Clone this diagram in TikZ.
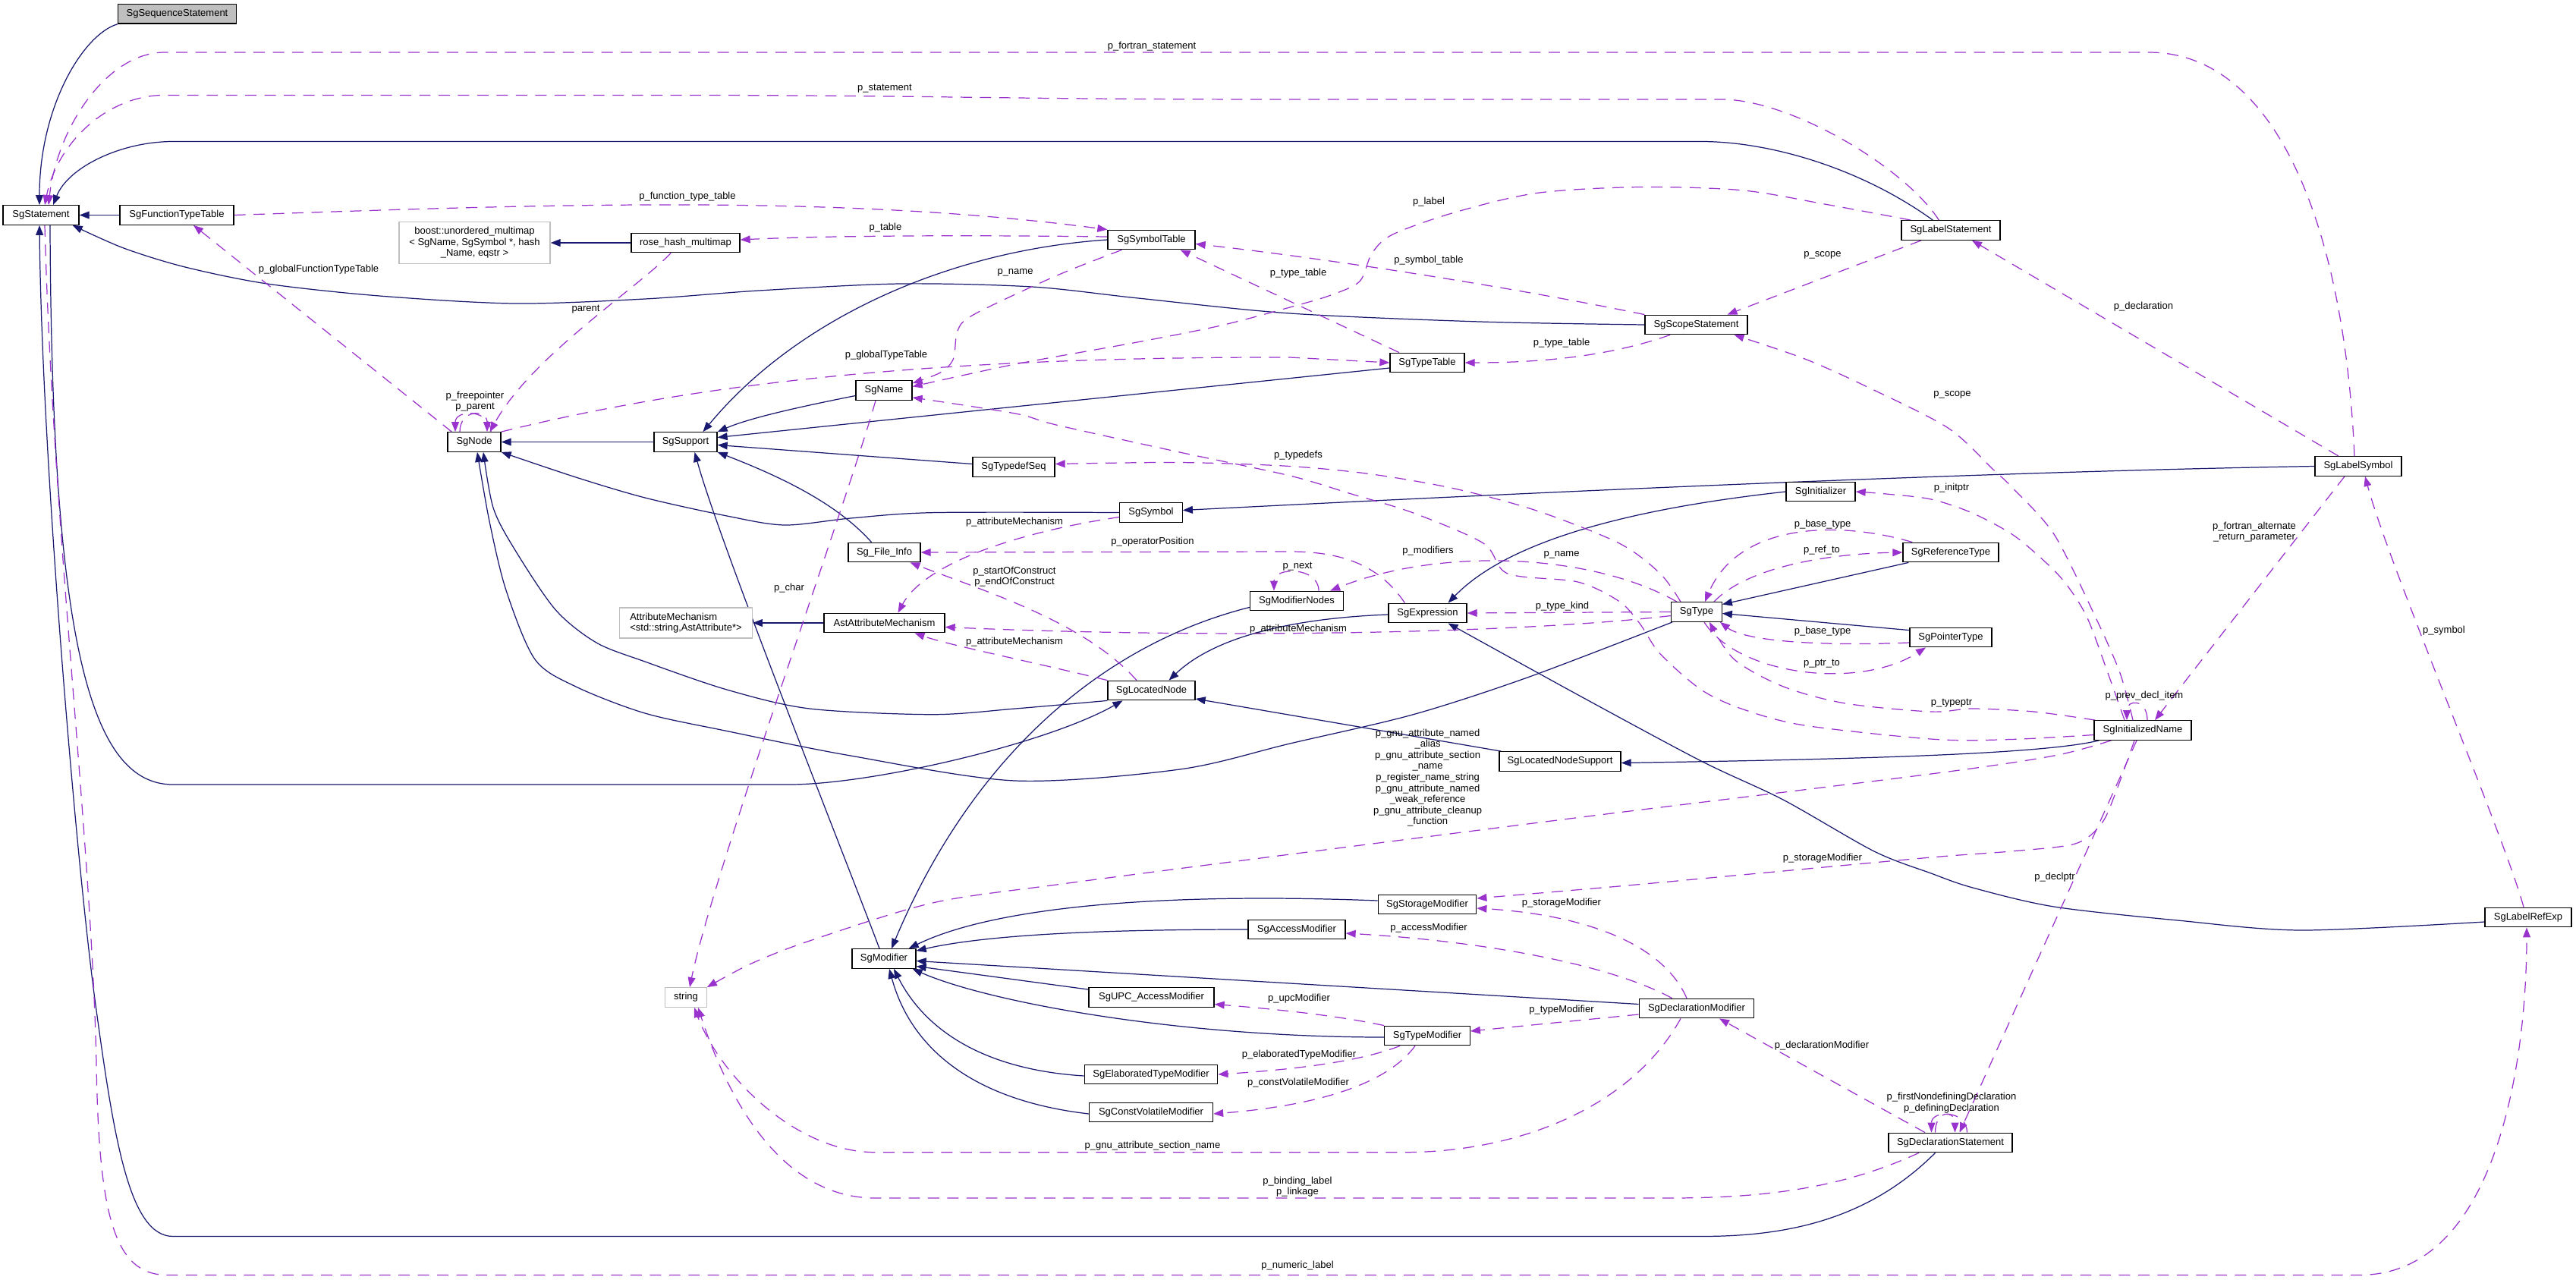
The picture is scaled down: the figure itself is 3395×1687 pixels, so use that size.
\documentclass[tikz,border=0pt]{standalone}
\usepackage{fontspec}
\setmainfont{Liberation Sans}
\usetikzlibrary{arrows.meta}
\definecolor{inhcol}{HTML}{191970}
\definecolor{usecol}{HTML}{9A32CD}
\definecolor{grayfill}{HTML}{BFBFBF}
\newcommand\dgfont{\fontsize{7.4}{8.3}\selectfont}
\pgfdeclarelayer{bg}
\pgfdeclarelayer{edges}
\pgfsetlayers{bg,edges,main}
\tikzset{
  box/.style={draw=black, line width=0.75pt, fill=white, minimum height=0.51cm, inner sep=0pt, font=\dgfont},
  gbox/.style={box, draw=grayfill},
  wd/.style={minimum width=#1*0.02cm},
  inhedge/.style={draw=inhcol, line width=0.7pt, -{Triangle[length=7.4pt,width=5.6pt]}},
  usedge/.style={draw=usecol, line width=0.7pt, dash pattern=on 8.5pt off 6pt, -{Triangle[length=7.4pt,width=5.6pt]}},
  lbl/.style={font=\dgfont, inner sep=0pt, align=center},
}
\begin{document}
\begin{tikzpicture}[x=0.02cm, y=-0.02cm]
\begin{pgfonlayer}{bg}
\fill[white] (0,0) rectangle (3395,1687);
\end{pgfonlayer}
\useasboundingbox (0,0) rectangle (3395,1687);

% ---------------- nodes ----------------
\node[box, wd=156, fill=grayfill] (seq) at (233.5,18.4) {SgSequenceStatement};
\node[box, wd=100] (stmt) at (54,283.5) {SgStatement};
\node[box, wd=150] (ftt) at (233,283.5) {SgFunctionTypeTable};
\node[gbox, wd=199, minimum height=1.1cm, align=center] (boost) at (625.5,320) {boost::unordered\_multimap\\< SgName, SgSymbol *, hash\\\_Name, eqstr >};
\node[box, wd=143] (rhm) at (903.5,320) {rose\_hash\_multimap};
\node[box, wd=70] (sgnode) at (625,582.5) {SgNode};
\node[box, wd=83] (support) at (903.5,582.5) {SgSupport};
\node[box, wd=74] (sgname) at (1165,514.5) {SgName};
\node[box, wd=115] (symtab) at (1517.5,316) {SgSymbolTable};
\node[box, wd=98] (typetab) at (1881,478) {SgTypeTable};
\node[box, wd=135] (scope) at (2235.5,428) {SgScopeStatement};
\node[box, wd=130] (labstmt) at (2571,303.5) {SgLabelStatement};
\node[box, wd=108] (typedefseq) at (1336,615.5) {SgTypedefSeq};
\node[box, wd=82.5] (symbol) at (1517,675.5) {SgSymbol};
\node[box, wd=114] (labsym) at (3108,614.5) {SgLabelSymbol};
\node[box, wd=95] (fileinfo) at (1165.5,728) {Sg\_File\_Info};
\node[gbox, wd=174.5, minimum height=0.8cm, align=left] (attrmech) at (904,821) {AttributeMechanism\\<std::string,AstAttribute*>};
\node[box, wd=159] (astattr) at (1165.5,821) {AstAttributeMechanism};
\node[box, wd=123] (modnodes) at (1709,792) {SgModifierNodes};
\node[box, wd=103] (expr) at (1881.5,808) {SgExpression};
\node[box, wd=66.5] (sgtype) at (2236,806.5) {SgType};
\node[box, wd=91] (init) at (2399.5,648) {SgInitializer};
\node[box, wd=126] (reftype) at (2571,728) {SgReferenceType};
\node[box, wd=108] (ptrtype) at (2571,840) {SgPointerType};
\node[box, wd=115] (locnode) at (1517.5,910) {SgLocatedNode};
\node[box, wd=160] (lnsupport) at (2056,1003.5) {SgLocatedNodeSupport};
\node[box, wd=128] (initname) at (2824,962.5) {SgInitializedName};
\node[gbox, wd=54.5] (sgstring) at (904,1314.5) {string};
\node[box, wd=84] (modifier) at (1165,1263.5) {SgModifier};
\node[box, wd=129.5] (storage) at (1881,1192) {SgStorageModifier};
\node[box, wd=128] (access) at (1709,1225) {SgAccessModifier};
\node[box, wd=165] (upc) at (1517.5,1314.5) {SgUPC\_AccessModifier};
\node[box, wd=112.5] (typemod) at (1881,1365) {SgTypeModifier};
\node[box, wd=151.5] (declmod) at (2236,1329) {SgDeclarationModifier};
\node[box, wd=175.5] (elab) at (1517,1416) {SgElaboratedTypeModifier};
\node[box, wd=163] (cv) at (1517,1466) {SgConstVolatileModifier};
\node[box, wd=163] (declstmt) at (2570.5,1506) {SgDeclarationStatement};
\node[box, wd=114] (labref) at (3332,1209) {SgLabelRefExp};

\begin{pgfonlayer}{edges}
% ---------------- inheritance ----------------
\draw[inhedge] (seq.south west) .. controls (110,45) and (52,140) .. ([shift={(-2,0)}]stmt.north);
\draw[inhedge] (ftt.west) -- (stmt.east);
\draw[inhedge] ([shift={(42,0)}]labstmt.north west) .. controls (2450,220) and (2330,186.5) .. (2242,186.5) -- (228,186.5) .. controls (160,186.5) and (90,220) .. ([shift={(16,0)}]stmt.north);
\draw[inhedge] plot[smooth] coordinates {(scope.west) (1950,424) (1700,413) (1500,393) (1360,378) (1186,374) (1000,383) (850,394) (678,400) (500,390) (352,374) (244,352) (163,327) ([shift={(-9,0)}]stmt.south east)};
\draw[inhedge] ([shift={(-20,0)}]declstmt.south) .. controls (2460,1610) and (2350,1629.5) .. (2242,1629.5) -- (228,1629.5) .. controls (170,1629.5) and (150,1500) .. (125,1317) .. controls (100,1130) and (55,600) .. ([shift={(-2,0)}]stmt.south);
\draw[inhedge] ([shift={(12,0)}]stmt.south) .. controls (68,850) and (120,1034) .. (228,1034) -- (1040,1034) .. controls (1150,1034) and (1380,980) .. ([shift={(-38,0)}]locnode.south);
\draw[inhedge] (symtab.west) .. controls (1250,330) and (1050,420) .. ([shift={(23,0)}]support.north);
\draw[inhedge] ([shift={(0,7)}]sgname.west) .. controls (1060,535) and (990,550) .. (support.north east);
\draw[inhedge] ([shift={(0,7)}]typetab.west) -- ([shift={(0,-6)}]support.east);
\draw[inhedge] ([shift={(0,-4)}]typedefseq.west) -- ([shift={(0,4)}]support.east);
\draw[inhedge] ([shift={(-17,0)}]fileinfo.north) .. controls (1100,660) and (1020,625) .. (support.south east);
\draw[inhedge] ([shift={(-6,0)}]modifier.north) .. controls (1110,1120) and (950,720) .. ([shift={(12,0)}]support.south);
\draw[inhedge] (support.west) -- (sgnode.east);
\draw[inhedge] plot[smooth] coordinates {(symbol.west) (1230,675.6) (1121,683) (1034,692) (958,680) (850,656) (759,629) (sgnode.south east)};
\draw[inhedge] plot[smooth] coordinates {(locnode.south west) (1338,934) (1229,941.7) (1067,934) (958,909) (850,872) (786,847) (732,803.5) (678,723.6) (650,669) ([shift={(12,0)}]sgnode.south)};
\draw[inhedge] plot[smooth] coordinates {([shift={(2,0)}]sgtype.south west) (2014,892.6) (1862.6,941.7) (1700,980) (1554.7,1014) (1338,1029) (1121,996) (958,963.5) (850,940) (759,905) (705,869) (667,778) (645,687) ([shift={(4,0)}]sgnode.south)};
\draw[inhedge] ([shift={(7,0)}]initname.south west) .. controls (2700,992) and (2500,1000) .. ([shift={(0,2)}]lnsupport.east);
\draw[inhedge] ([shift={(3,0)}]lnsupport.north west) -- ([shift={(0,11)}]locnode.east);
\draw[inhedge] ([shift={(0,2)}]expr.west) .. controls (1700,815) and (1600,840) .. ([shift={(23,0)}]locnode.north);
\draw[inhedge] (init.west) .. controls (2200,665) and (2000,700) .. ([shift={(27,0)}]expr.north);
\draw[inhedge] plot[smooth] coordinates {([shift={(0,6)}]labref.west) (3033,1226) (2870,1213) (2707,1195) (2600,1170) (2545,1151) (2470,1122) (2350,1054) (2242,1003) (2080,916) ([shift={(27,0)}]expr.south)};
\draw[inhedge] ([shift={(8,0)}]reftype.south west) -- ([shift={(0,-10)}]sgtype.east);
\draw[inhedge] ([shift={(0,4)}]ptrtype.north west) -- ([shift={(0,2)}]sgtype.east);
\draw[inhedge] (labsym.west) .. controls (2600,622) and (2000,650) .. ([shift={(0,-3)}]symbol.east);
\draw[inhedge] ([shift={(0,-5)}]modnodes.south west) .. controls (1450,850) and (1280,1000) .. ([shift={(10,0)}]modifier.north);
\draw[inhedge] ([shift={(0,-5)}]storage.west) .. controls (1500,1175) and (1300,1200) .. ([shift={(-10,0)}]modifier.north east);
\draw[inhedge] (access.west) .. controls (1450,1225) and (1300,1232) .. ([shift={(0,3)}]modifier.north east);
\draw[inhedge] ([shift={(0,-5.5)}]declmod.west) -- ([shift={(0,3)}]modifier.east);
\draw[inhedge] ([shift={(0,3)}]upc.north west) -- ([shift={(0,10)}]modifier.east);
\draw[inhedge] ([shift={(0,2)}]typemod.west) .. controls (1550,1367) and (1300,1320) .. ([shift={(-5,0)}]modifier.south east);
\draw[inhedge] ([shift={(0,2)}]elab.west) .. controls (1300,1410) and (1220,1360) .. ([shift={(13,0)}]modifier.south);
\draw[inhedge] ([shift={(0,2)}]cv.west) .. controls (1280,1450) and (1200,1380) .. ([shift={(7,0)}]modifier.south);
\draw[inhedge] (astattr.west) -- (attrmech.east);
\draw[inhedge] (rhm.west) -- (boost.east);

% ---------------- usage ----------------
\draw[usedge] ([shift={(-5,0)}]labsym.north) .. controls (3090,300) and (3000,69) .. (2832,69) -- (217,69) .. controls (140,69) and (75,170) .. ([shift={(10,0)}]stmt.north);
\draw[usedge] ([shift={(50,0)}]labstmt.north west) .. controls (2510,220) and (2360,131) .. (2269,131) -- (1700,131) .. controls (1300,131) and (1250,125.4) .. (850,125.4) -- (217,125.4) .. controls (140,125.4) and (75,190) .. ([shift={(5,0)}]stmt.north);
\draw[usedge] (ftt.east) .. controls (700,270) and (1100,255) .. (symtab.north west);
\draw[usedge] ([shift={(0,-4)}]symtab.west) .. controls (1300,310) and (1100,310) .. ([shift={(0,-4)}]rhm.east);
\draw[usedge] ([shift={(6,0)}]sgnode.north west) -- ([shift={(22,0)}]ftt.south);
\draw[usedge] ([shift={(53,0)}]rhm.south west) .. controls (840,380) and (700,470) .. ([shift={(-15,0)}]sgnode.north east);
\draw[usedge] ([shift={(22,0)}]sgnode.north) .. controls +(0,-30) and +(0,-30) .. ([shift={(-25,0)}]sgnode.north);
\draw[usedge] ([shift={(-19,0)}]sgnode.north) .. controls +(0,-30) and +(0,-30) .. ([shift={(17,0)}]sgnode.north);
\draw[usedge] plot[smooth] coordinates {([shift={(19,0)}]symtab.south west) (1392,363.5) (1283.7,414.4) (1262,436) (1256.6,472.6) (1240,490.7) ([shift={(0,4)}]sgname.north east)};
\draw[usedge] plot[smooth] coordinates {([shift={(13,0)}]labstmt.north west) (2404.7,269) (2296,250.8) (2161,246.5) (2025,254.5) (1917,280) (1835.5,309) (1808,334) (1792,370.8) (1754,389) (1700,405) (1609,429) (1500.5,450.7) (1338,480) ([shift={(0,-5)}]sgname.east)};
\draw[usedge] (scope.north west) .. controls (1950,370) and (1700,335) .. ([shift={(0,5.5)}]symtab.east);
\draw[usedge] ([shift={(-37,0)}]typetab.north) -- ([shift={(-20,0)}]symtab.south east);
\draw[usedge] ([shift={(-34.5,0)}]scope.south) .. controls (2120,470) and (2030,478) .. (typetab.east);
\draw[usedge] ([shift={(-39,0)}]labstmt.south) -- ([shift={(41,0)}]scope.north);
\draw[usedge] plot[smooth] coordinates {([shift={(-13,0)}]initname.north) (2794,887) (2762,814) (2707.6,705) (2653,643.6) (2626,618) (2566.7,563.6) (2459,509) (2377.6,472.6) ([shift={(50,0)}]scope.south)};
\draw[usedge] ([shift={(-26,0)}]labsym.north) -- ([shift={(28,0)}]labstmt.south);
\draw[usedge] ([shift={(-18,0)}]labsym.south) -- ([shift={(16,0)}]initname.north);
\draw[usedge] ([shift={(-6,0)}]labref.north) .. controls (3300,1100) and (3150,750) .. ([shift={(9,0)}]labsym.south);
\draw[usedge] ([shift={(6,0)}]initname.north) .. controls +(0,-28) and +(0,-28) .. ([shift={(-21,0)}]initname.north);
\draw[usedge] plot[smooth] coordinates {([shift={(-24,0)}]initname.north) (2778,887) (2751,814.5) (2724,771) (2697,742) (2653,705) (2599,676) (2545,658) (2486,651) (init.east)};
\draw[usedge] plot[smooth] coordinates {([shift={(2,0)}]initname.north west) (2680.5,938) (2599,934) (2545,938) (2432,927) (2350.5,905) (2285.5,869) ([shift={(17,0)}]sgtype.south)};
\draw[usedge] plot[smooth] coordinates {([shift={(0,6)}]initname.west) (2653,974.4) (2550,974.4) (2378,956) (2296,934.4) (2242,909) (2188,861.7) (2161,821.7) (2134,792.6) (2079.5,767) (1987,756) (1955,716) (1862.6,676) (1781,651) (1700,627) (1554.7,596) (1392,560) (1338,545) ([shift={(0,-4)}]sgname.south east)};
\draw[usedge] (sgtype.west) -- (expr.east);
\draw[usedge] ([shift={(0,5)}]sgtype.west) .. controls (2000,835) and (1600,842) .. ([shift={(0,5.5)}]astattr.east);
\draw[usedge] (locnode.north west) .. controls (1350,870) and (1250,850) .. ([shift={(40,0)}]astattr.south);
\draw[usedge] ([shift={(0,6)}]symbol.west) .. controls (1350,700) and (1220,740) .. ([shift={(18,0)}]astattr.north);
\draw[usedge] ([shift={(22,0)}]expr.north west) .. controls (1815,740) and (1760,727) .. (1700,727) -- (fileinfo.east);
\draw[usedge] ([shift={(-19.5,0)}]locnode.north) .. controls (1430,820) and (1300,780) .. ([shift={(34,0)}]fileinfo.south);
\draw[usedge] ([shift={(-26,0)}]sgtype.north) .. controls (2100,730) and (1900,720) .. ([shift={(-18,0)}]modnodes.north east);
\draw[usedge] ([shift={(29,0)}]modnodes.north) .. controls +(0,-32) and +(0,-32) .. ([shift={(-30,0)}]modnodes.north);
\draw[usedge] ([shift={(13,0)}]reftype.north west) .. controls (2420,685) and (2290,690) .. ([shift={(11,0)}]sgtype.north);
\draw[usedge] ([shift={(-11,0)}]sgtype.north east) .. controls (2300,750) and (2400,730) .. (reftype.west);
\draw[usedge] ([shift={(0,7)}]ptrtype.west) .. controls (2400,852) and (2300,845) .. ([shift={(-3,0)}]sgtype.south east);
\draw[usedge] ([shift={(10,0)}]sgtype.south) .. controls (2290,890) and (2450,910) .. ([shift={(-33,0)}]ptrtype.south);
\draw[usedge] plot[smooth] coordinates {([shift={(-11,0)}]initname.south) (2790,1040) (2770,1085) (2735,1112) (2650,1122) (2545,1130) (2296,1153) (2134,1168) ([shift={(0,-8)}]storage.east)};
\draw[usedge] plot[smooth] coordinates {([shift={(23,0)}]initname.south west) (2707,996) (2545,1020) (2100,1075) (1700,1126) (1400,1165) (1229,1190) (1067,1240) (990,1270) (sgstring.north east)};
\draw[usedge] ([shift={(-8,0)}]initname.south) -- ([shift={(12,0)}]declstmt.north);
\draw[usedge] ([shift={(22,0)}]declstmt.north) .. controls +(0,-30) and +(0,-30) .. ([shift={(-25,0)}]declstmt.north);
\draw[usedge] ([shift={(-20,0)}]declstmt.north) .. controls +(0,-30) and +(0,-30) .. ([shift={(6,0)}]declstmt.north);
\draw[usedge] ([shift={(-33.5,0)}]declstmt.north) -- ([shift={(30,0)}]declmod.south);
\draw[usedge] ([shift={(-13,0)}]declmod.north) .. controls (2190,1240) and (2080,1205) .. ([shift={(0,5)}]storage.east);
\draw[usedge] ([shift={(44,0)}]declmod.north west) .. controls (2120,1270) and (1950,1240) .. ([shift={(0,5)}]access.east);
\draw[usedge] ([shift={(0,8)}]declmod.west) -- ([shift={(0,-6)}]typemod.east);
\draw[usedge] (typemod.north west) .. controls (1760,1338) and (1680,1330) .. ([shift={(0,9)}]upc.east);
\draw[usedge] ([shift={(21,0)}]typemod.south west) .. controls (1790,1400) and (1700,1410) .. (elab.east);
\draw[usedge] ([shift={(-16,0)}]typemod.south) .. controls (1820,1440) and (1700,1460) .. ([shift={(0,2)}]cv.east);
\draw[usedge] ([shift={(-21,0)}]declmod.south) .. controls (2150,1460) and (2000,1518.7) .. (1850,1518.7) -- (1153.6,1518.7) .. controls (1050,1518.7) and (950,1420) .. ([shift={(11,0)}]sgstring.south);
\draw[usedge] ([shift={(-41.5,0)}]declstmt.south) .. controls (2430,1565) and (2330,1579) .. (2200,1579) -- (1153.6,1579) .. controls (1030,1579) and (960,1450) .. ([shift={(16,0)}]sgstring.south);
\draw[usedge] ([shift={(-11,0)}]sgname.south) .. controls (1120,650) and (940,1150) .. ([shift={(5,0)}]sgstring.north);
\draw[usedge] plot[smooth] coordinates {([shift={(-21,0)}]sgtype.north) (2188,756) (2134,716) (2025,673) (1917,644) (1808,625) (1700,614.5) (1554,609.5) ([shift={(0,-4)}]typedefseq.east)};
\draw[usedge] (sgnode.north east) .. controls (900,510) and (1200,470) .. (1700,471) -- (typetab.west);
\draw[usedge] ([shift={(5,0)}]stmt.south) .. controls (70,700) and (120,1100) .. (127,1400) .. controls (130,1600) and (150,1680.4) .. (220,1680.4) -- (3110,1680.4) .. controls (3290,1680.4) and (3330,1400) .. ([shift={(-2,0)}]labref.south);
\end{pgfonlayer}

% ---------------- labels ----------------
\node[lbl] (l1) at (1518,61) {p\_fortran\_statement};
\node[lbl] (l2) at (1166,117) {p\_statement};
\node[lbl] (l3) at (906,259) {p\_function\_type\_table};
\node[lbl] (l4) at (1167,300) {p\_table};
\node[lbl] (l5) at (420,355) {p\_globalFunctionTypeTable};
\node[lbl] (l6) at (772,408) {parent};
\node[lbl] (l7) at (626,529) {p\_freepointer\\p\_parent};
\node[lbl] (l8) at (1338,359) {p\_name};
\node[lbl] (l9) at (1883,266.5) {p\_label};
\node[lbl] (l10) at (1883,343) {p\_symbol\_table};
\node[lbl] (l11) at (1711,360) {p\_type\_table};
\node[lbl] (l12) at (2058,452) {p\_type\_table};
\node[lbl] (l13) at (2402,336) {p\_scope};
\node[lbl] (l14) at (2573,520) {p\_scope};
\node[lbl] (l15) at (2825,404) {p\_declaration};
\node[lbl] (l16) at (2971,701) {p\_fortran\_alternate\\\_return\_parameter};
\node[lbl] (l17) at (3221,831) {p\_symbol};
\node[lbl] (l18) at (2826,917) {p\_prev\_decl\_item};
\node[lbl] (l19) at (2572,643) {p\_initptr};
\node[lbl] (l20) at (2572,927) {p\_typeptr};
\node[lbl] (l21) at (2058,731.6) {p\_name};
\node[lbl] (l22) at (2059,799) {p\_type\_kind};
\node[lbl] (l23) at (1711,829) {p\_attributeMechanism};
\node[lbl] (l24) at (1337,846) {p\_attributeMechanism};
\node[lbl] (l25) at (1337,688) {p\_attributeMechanism};
\node[lbl] (l26) at (1519,714) {p\_operatorPosition};
\node[lbl] (l27) at (1337,760) {p\_startOfConstruct\\p\_endOfConstruct};
\node[lbl] (l28) at (1882,726) {p\_modifiers};
\node[lbl] (l29) at (1710,746.5) {p\_next};
\node[lbl] (l30) at (2402,691) {p\_base\_type};
\node[lbl] (l31) at (2401,725) {p\_ref\_to};
\node[lbl] (l32) at (2402,832) {p\_base\_type};
\node[lbl] (l33) at (2401,875) {p\_ptr\_to};
\node[lbl] (l34) at (2402,1131) {p\_storageModifier};
\node[lbl] (l35) at (1881.6,1025) {p\_gnu\_attribute\_named\\\_alias\\p\_gnu\_attribute\_section\\\_name\\p\_register\_name\_string\\p\_gnu\_attribute\_named\\\_weak\_reference\\p\_gnu\_attribute\_cleanup\\\_function};
\node[lbl] (l36) at (2401,1378) {p\_declarationModifier};
\node[lbl] (l37) at (2058,1190) {p\_storageModifier};
\node[lbl] (l38) at (1883,1223) {p\_accessModifier};
\node[lbl] (l39) at (2058,1331) {p\_typeModifier};
\node[lbl] (l40) at (1712,1316) {p\_upcModifier};
\node[lbl] (l41) at (1712,1390) {p\_elaboratedTypeModifier};
\node[lbl] (l42) at (1711,1427) {p\_constVolatileModifier};
\node[lbl] (l43) at (1519,1510) {p\_gnu\_attribute\_section\_name};
\node[lbl] (l44) at (1710,1564) {p\_binding\_label\\p\_linkage};
\node[lbl] (l45) at (1040,775) {p\_char};
\node[lbl] (l46) at (1711,600) {p\_typedefs};
\node[lbl] (l47) at (1168,468) {p\_globalTypeTable};
\node[lbl] (l48) at (1710,1668) {p\_numeric\_label};
\node[lbl] (l49) at (2572,1453.5) {p\_firstNondefiningDeclaration\\p\_definingDeclaration};
\node[lbl] (l50) at (2708,1156) {p\_declptr};
\end{tikzpicture}
\end{document}
